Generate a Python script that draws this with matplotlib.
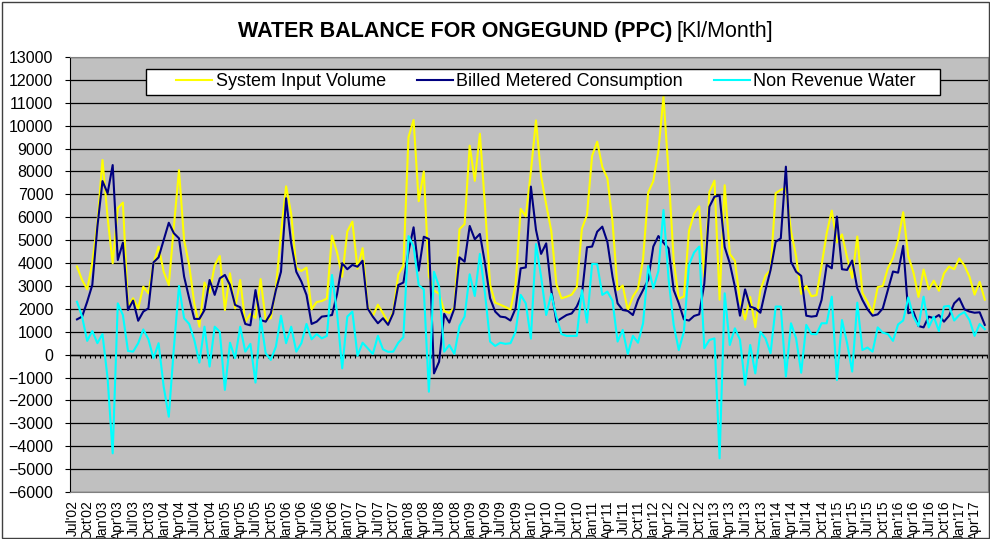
import matplotlib
matplotlib.use('Agg')
import matplotlib.pyplot as plt
import numpy as np
from matplotlib.patches import Rectangle
from matplotlib.transforms import ScaledTranslation

plt.rcParams['font.family'] = ['Liberation Sans', 'DejaVu Sans']

# monthly values, Jul'02 .. May'17 [Kl/Month]
system_input = [
    3850, 3260, 2850, 4000, 5750, 8500, 6000, 3990, 6400, 6640,
    2100, 2460, 2020, 2970, 2680, 3990, 4720, 3620, 3040, 5600,
    8060, 5000, 3900, 2240, 1220, 3150, 2700, 3900, 4310, 1950,
    3550, 2020, 3260, 1420, 1780, 1600, 3300, 1510, 1590, 2900,
    5300, 7350, 6150, 3800, 3650, 3800, 1980, 2300, 2340, 2450,
    5200, 4450, 3400, 5380, 5810, 3750, 4650, 2100, 1680, 2180,
    1810, 1400, 1880, 3500, 3880, 9500, 10250, 6700, 8000, 3420,
    2800, 2660, 1900, 1820, 2060, 5480, 5700, 9130, 7590, 9650,
    6500, 3050, 2270, 2180, 2080, 1970, 3050, 6370, 6040, 8000,
    10230, 7800, 6560, 5400, 3080, 2460, 2530, 2620, 2950, 5500,
    6100, 8680, 9300, 8200, 7700, 5820, 2820, 3020, 1950, 2540,
    2880, 4180, 7080, 7580, 8900, 11270, 7930, 4120, 2440, 2540,
    5410, 6150, 6480, 3400, 7100, 7600, 2400, 7400, 4400, 4100,
    2350, 1530, 2520, 1200, 2820, 3450, 3700, 7050, 7200, 7280,
    5400, 4300, 2650, 3000, 2550, 2600, 3900, 5300, 6290, 4900,
    5250, 4250, 3350, 5160, 2700, 2300, 1820, 2950, 3000, 3780,
    4220, 5000, 6220, 4300, 3600, 2520, 3720, 2850, 3230, 2790,
    3550, 3850, 3730, 4200, 3900, 3400, 2620, 3180, 2400,
]

billed_metered = [
    1540, 1660, 2310, 3040, 5590, 7580, 7050, 8280, 4130, 4890,
    1950, 2360, 1480, 1880, 2020, 4030, 4250, 5010, 5760, 5300,
    5080, 3410, 2460, 1560, 1560, 1950, 3260, 2610, 3330, 3480,
    3040, 2170, 2070, 1340, 1280, 2820, 1510, 1440, 1800, 2820,
    3620, 6830, 4860, 3620, 3190, 2610, 1340, 1440, 1660, 1690,
    1730, 2650, 3990, 3730, 3920, 3840, 4100, 2020, 1660, 1370,
    1590, 1300, 1800, 3040, 3150, 4500, 5560, 3670, 5150, 5050,
    -820, -310, 1780, 1400, 2020, 4250, 4060, 5620, 5040, 5270,
    3990, 2460, 1880, 1660, 1630, 1490, 2020, 3770, 3810, 7340,
    5450, 4400, 4860, 2820, 1440, 1590, 1730, 1800, 2100, 2610,
    4690, 4720, 5370, 5590, 4920, 3410, 2240, 1950, 1910, 1730,
    2390, 2820, 3260, 4720, 5180, 4890, 4640, 2820, 2240, 1540,
    1490, 1690, 1760, 3100, 6460, 6900, 6950, 4700, 3990, 2970,
    1700, 2850, 2100, 2020, 1830, 2820, 3700, 4930, 5080, 8210,
    4060, 3620, 3440, 1700, 1660, 1690, 2390, 3920, 3770, 6030,
    3730, 3700, 4110, 2900, 2390, 1980, 1700, 1760, 2020, 2820,
    3630, 3580, 4750, 1810, 1880, 1250, 1190, 1660, 1590, 1730,
    1440, 1700, 2240, 2460, 1980, 1880, 1830, 1850, 1300,
]

non_revenue = [
    2310, 1660, 600, 1030, 500, 900, -1030, -4310, 2240, 1730,
    160, 130, 500, 1100, 670, -160, 500, -1400, -2710, 300,
    3000, 1590, 1340, 640, -350, 1220, -520, 1220, 1000, -1540,
    520, -160, 1220, 130, 470, -1220, 1590, 60, -230, 350,
    1700, 500, 1220, 130, 500, 1340, 670, 900, 710, 820,
    3480, 1800, -600, 1660, 1880, -50, 520, 280, 30, 820,
    230, 120, 130, 520, 760, 5180, 4720, 3040, 2850, -1620,
    3620, 2970, 130, 420, 30, 1250, 1660, 3510, 2560, 4400,
    2680, 570, 380, 520, 470, 500, 1000, 2610, 2240, 700,
    4830, 3410, 1730, 2650, 1660, 900, 820, 820, 820, 2820,
    1400, 3960, 3950, 2610, 2750, 2360, 570, 1080, 30, 820,
    520, 1370, 3870, 2900, 3650, 6320, 3290, 1300, 200, 1000,
    3920, 4460, 4720, 280, 640, 710, -4530, 2680, 420, 1150,
    650, -1320, 420, -820, 1000, 710, 60, 2100, 2100, -960,
    1370, 710, -790, 1300, 900, 890, 1370, 1370, 2530, -1110,
    1510, 500, -740, 2270, 200, 310, 130, 1190, 960, 900,
    600, 1320, 1490, 2500, 1660, 1250, 2530, 1190, 1660, 1030,
    2100, 2130, 1490, 1730, 1860, 1510, 820, 1340, 1110,
]

tick_labels = [
    "Jul'02", "Oct'02", "Jan'03", "Apr'03", "Jul'03", "Oct'03", "Jan'04", "Apr'04",
    "Jul'04", "Oct'04", "Jan'05", "Apr'05", "Jul'05", "Oct'05", "Jan'06", "Apr'06",
    "Jul'06", "Oct'06", "Jan'07", "Apr'07", "Jul'07", "Oct'07", "Jan'08", "Apr'08",
    "Jul'08", "Oct'08", "Jan'09", "Apr'09", "Jul'09", "Oct'09", "Jan'10", "Apr'10",
    "Jul'10", "Oct'10", "Jan'11", "Apr'11", "Jul'11", "Oct'11", "Jan'12", "Apr'12",
    "Jul'12", "Oct'12", "Jan'13", "Apr'13", "Jul'13", "Oct'13", "Jan'14", "Apr'14",
    "Jul'14", "Oct'14", "Jan'15", "Apr'15", "Jul'15", "Oct'15", "Jan'16", "Apr'16",
    "Jul'16", "Oct'16", "Jan'17", "Apr'17",
]

W, H = 990, 539
fig = plt.figure(figsize=(W / 100, H / 100), dpi=100)
ax = fig.add_axes([70 / W, 1 - 492 / H, 918 / W, 435 / H])
ax.set_facecolor('#C0C0C0')

x = np.arange(len(system_input))
ax.plot(x, system_input, color='#FFFF00', lw=1.5, label='System Input Volume', zorder=3)
ax.plot(x, billed_metered, color='#000080', lw=1.5, label='Billed Metered Consumption', zorder=4)
ax.plot(x, non_revenue, color='#00FFFF', lw=1.5, label='Non Revenue Water', zorder=5)

ax.set_ylim(-6000, 13000)
ax.set_xlim(-1.37, len(x) - 1 + 0.63)
ax.set_yticks(np.arange(-6000, 13001, 1000))
ax.yaxis.grid(True, color='black', lw=0.9)
ax.set_axisbelow(True)
ax.tick_params(axis='y', labelsize=11.5, length=3.6, width=0.8, pad=8.5)

# category axis sits at zero, with small monthly ticks
ax.axhline(0, color='black', lw=1, zorder=2)
ax.plot(x + 0.5, np.zeros(len(x)), ls='none', marker=3, ms=2.5, mew=0.8,
        color='black', zorder=2)

ax.set_xticks(np.arange(0, len(x), 3))
ax.set_xticklabels(tick_labels, rotation=90, fontsize=10)
ax.tick_params(axis='x', length=0, pad=6)
shift = ScaledTranslation(-4.5 / 100, 0, fig.dpi_scale_trans)
for lab in ax.get_xticklabels():
    lab.set_transform(lab.get_transform() + shift)

for side in ['top', 'right', 'bottom']:
    ax.spines[side].set_color('#808080')
ax.spines['left'].set_color('black')

# title
fig.text(672 / W, 1 - 32 / H, 'WATER BALANCE FOR ONGEGUND (PPC)', ha='right',
         va='center', fontsize=15.5, fontweight='bold')
fig.text(677 / W, 1 - 32 / H, '[Kl/Month]', ha='left', va='center', fontsize=15.5)

# legend box
fig.add_artist(Rectangle((146 / W, 1 - 95 / H), (940 - 146) / W, 26 / H,
                         transform=fig.transFigure, facecolor='white',
                         edgecolor='black', lw=1, zorder=4))
handles, labels = ax.get_legend_handles_labels()
fig.legend(handles, labels, loc='center left', bbox_to_anchor=(176 / W, 1 - 82 / H),
           ncol=3, frameon=False, fontsize=13, handlelength=2.0, handletextpad=0.2,
           columnspacing=1.7, borderpad=0, borderaxespad=0)

# outer chart border
fig.add_artist(Rectangle((1.5 / W, 1.5 / H), (W - 3) / W, (H - 3) / H,
                         transform=fig.transFigure, fill=False,
                         edgecolor='#404040', lw=1))

fig.savefig('out.png', dpi=100)
